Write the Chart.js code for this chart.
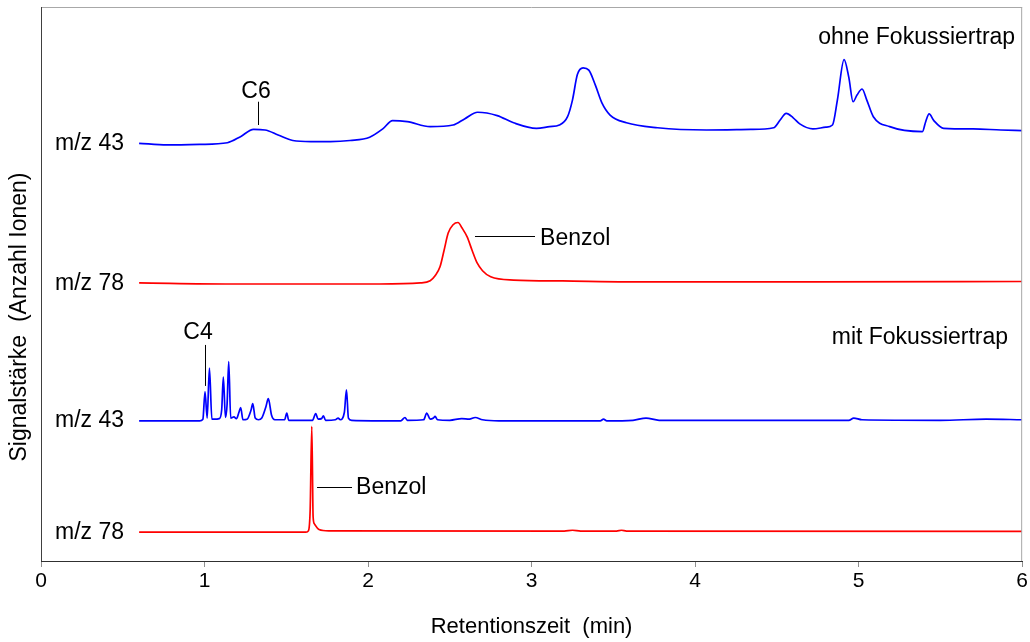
<!DOCTYPE html>
<html>
<head>
<meta charset="utf-8">
<script src="https://cdn.jsdelivr.net/npm/chart.js@4.4.1/dist/chart.umd.min.js"></script>
<style>
  html, body { margin: 0; padding: 0; background: #ffffff; }
  #wrap { width: 1030px; height: 642px; }
</style>
</head>
<body>
<div id="wrap"><canvas id="c" width="1030" height="642"></canvas></div>
<script>
// ---- Data (retention time in min, signal in arbitrary units above each trace's baseline) ----
const traceNames = ['m/z 43', 'm/z 78', 'm/z 43', 'm/z 78'];
const traceOffsets = [75.3, 50.1, 25.3, 5.2];
const xTicks = [0, 1, 2, 3, 4, 5, 6];

// ohne Fokussiertrap, m/z 43
const ohne43Time = [0.6,0.77,0.97,1.14,1.22,1.30,1.37,1.45,1.54,1.65,1.77,1.89,2.01,2.09,2.15,2.24,2.38,2.52,2.59,2.67,2.79,2.89,3.03,3.11,3.17,3.22,3.25,3.28,3.315,3.35,3.39,3.43,3.48,3.58,3.77,4.07,4.34,4.48,4.52,4.557,4.60,4.64,4.72,4.80,4.84,4.87,4.911,4.94,4.966,4.99,5.021,5.05,5.09,5.19,5.39,5.41,5.431,5.46,5.52,5.70,5.87,6.0];
const ohne43Signal = [0.1,-0.2,-0.1,0.2,1.3,2.6,2.5,1.6,0.6,0.4,0.4,0.6,1.2,2.7,4.2,4.0,3.1,3.4,4.5,5.7,5.1,3.8,2.8,3.1,3.4,4.9,7.9,12.5,13.7,13.3,10.6,7.4,5.2,3.8,2.9,2.5,2.6,2.9,4.3,5.5,4.7,3.6,2.7,3.0,3.4,7.9,15.2,12.0,7.6,8.8,9.9,7.9,4.9,3.1,2.2,4.0,5.4,4.2,2.8,2.7,2.5,2.4];

// ohne Fokussiertrap, m/z 78
const ohne78Time = [0.6,1.16,2.07,2.32,2.38,2.41,2.44,2.465,2.49,2.52,2.55,2.575,2.606,2.636,2.667,2.70,2.75,2.89,3.19,3.58,4.64,6.0];
const ohne78Signal = [0.1,-0.1,-0.1,0.1,0.5,1.4,3.0,6.0,9.1,10.6,11.0,10.0,8.4,6.0,3.7,2.3,1.2,0.6,0.45,0.3,0.3,0.35];

// mit Fokussiertrap, m/z 43
const mit43Time = [0.6,0.97,0.99,1.003,1.016,1.03,1.045,1.06,1.09,1.105,1.115,1.128,1.138,1.148,1.16,1.18,1.195,1.21,1.221,1.235,1.26,1.285,1.295,1.31,1.33,1.35,1.375,1.39,1.41,1.43,1.49,1.503,1.515,1.66,1.68,1.695,1.715,1.727,1.74,1.80,1.817,1.83,1.855,1.868,1.88,1.90,2.20,2.226,2.24,2.34,2.359,2.38,2.40,2.41,2.425,2.50,2.573,2.62,2.655,2.70,2.80,3.42,3.44,3.46,3.62,3.70,3.78,4.20,4.94,4.97,5.02,5.50,5.78,6.0];
const mit43Signal = [0,0,0.3,5.3,0.5,9.5,0.3,0.3,0.4,2.0,7.9,0.6,3.0,10.7,0.5,0.7,0.4,1.5,2.4,0.2,0.3,2.0,3.1,0.5,0.2,0.5,2.5,4.0,1.0,0.2,0.2,1.4,0.1,0.1,1.3,0.3,0.4,0.9,0.1,0.2,0.5,0.2,1.5,5.6,0.5,0.1,0,0.6,0.1,0.2,1.4,0.3,0.5,0.8,0.2,0.1,0.4,0.3,0.6,0.2,0,0,0.3,0,0.1,0.5,0.1,0.1,0.1,0.5,0.2,0.1,0.3,0.2];

// mit Fokussiertrap, m/z 78
const mit78Time = [0.6,1.62,1.636,1.646,1.656,1.664,1.672,1.70,1.76,3.2,3.25,3.3,3.52,3.55,3.58,6.0];
const mit78Signal = [0,0,0.3,4.0,19.1,2.8,1.5,0.5,0.25,0.2,0.35,0.2,0.2,0.35,0.2,0.15];

// Annotations (data coordinates)
const peakMarkers = [
  { text: 'C6', lineX: 1.327, lineTop: 82.9, lineBottom: 78.7, textX: 1.315, textY: 84.7 },
  { text: 'C4', lineX: 1.003, lineTop: 39.0, lineBottom: 31.6, textX: 0.96, textY: 41.2 }
];
const benzolLabels = [
  { text: 'Benzol', lineFrom: 2.654, lineTo: 3.021, lineY: 58.7, textX: 3.052, textY: 58.1 },
  { text: 'Benzol', lineFrom: 1.688, lineTo: 1.902, lineY: 13.4, textX: 1.927, textY: 13.2 }
];
const groupLabels = [
  { text: 'ohne Fokussiertrap', x: 5.957, y: 94.4 },
  { text: 'mit Fokussiertrap', x: 5.914, y: 40.4 }
];
const traceLabelX = 0.086;

const FONT = "'Liberation Sans', Arial, sans-serif";

function buildSeries(times, signals, offset) {
  return times.map((t, i) => ({ x: t, y: offset + signals[i] }));
}

const seriesTimes = [ohne43Time, ohne78Time, mit43Time, mit78Time];
const seriesSignals = [ohne43Signal, ohne78Signal, mit43Signal, mit78Signal];
const seriesColors = ['#0000ff', '#ff0000', '#0000ff', '#ff0000'];

const datasets = seriesTimes.map((t, i) => ({
  label: traceNames[i],
  data: buildSeries(t, seriesSignals[i], traceOffsets[i]),
  borderColor: seriesColors[i],
  borderWidth: 1.7,
  pointRadius: 0,
  fill: false,
  cubicInterpolationMode: 'monotone'
}));

const overlay = {
  id: 'overlay',
  afterDraw(chart) {
    const { ctx, chartArea: ca, scales: { x, y } } = chart;
    ctx.save();
    // frame
    ctx.lineWidth = 1;
    ctx.strokeStyle = '#a8a8a8';
    ctx.beginPath();
    ctx.moveTo(ca.left, ca.top + 0.5); ctx.lineTo(ca.right, ca.top + 0.5);
    ctx.moveTo(ca.right - 0.5, ca.top); ctx.lineTo(ca.right - 0.5, ca.bottom);
    ctx.stroke();
    ctx.strokeStyle = '#404040';
    ctx.beginPath();
    ctx.moveTo(ca.left + 0.5, ca.top); ctx.lineTo(ca.left + 0.5, ca.bottom);
    ctx.stroke();

    ctx.fillStyle = '#000';
    ctx.strokeStyle = '#000';
    ctx.font = '23px ' + FONT;
    ctx.textBaseline = 'middle';

    // trace labels
    ctx.textAlign = 'left';
    traceNames.forEach((n, i) => {
      ctx.fillText(n, x.getPixelForValue(traceLabelX), y.getPixelForValue(traceOffsets[i]));
    });

    // peak markers
    peakMarkers.forEach(m => {
      const px = Math.round(x.getPixelForValue(m.lineX)) + 0.5;
      ctx.beginPath();
      ctx.moveTo(px, y.getPixelForValue(m.lineTop));
      ctx.lineTo(px, y.getPixelForValue(m.lineBottom));
      ctx.stroke();
      ctx.textAlign = 'center';
      ctx.fillText(m.text, x.getPixelForValue(m.textX), y.getPixelForValue(m.textY));
    });

    // Benzol labels
    benzolLabels.forEach(b => {
      const py = Math.round(y.getPixelForValue(b.lineY)) + 0.5;
      ctx.beginPath();
      ctx.moveTo(x.getPixelForValue(b.lineFrom), py);
      ctx.lineTo(x.getPixelForValue(b.lineTo), py);
      ctx.stroke();
      ctx.textAlign = 'left';
      ctx.fillText(b.text, x.getPixelForValue(b.textX), y.getPixelForValue(b.textY));
    });

    // group labels
    ctx.textAlign = 'right';
    groupLabels.forEach(g => {
      ctx.fillText(g.text, x.getPixelForValue(g.x), y.getPixelForValue(g.y));
    });

    // y-axis title
    ctx.save();
    ctx.translate(20, 317);
    ctx.rotate(-Math.PI / 2);
    ctx.textAlign = 'center';
    ctx.font = '23px ' + FONT;
    ctx.fillText('Signalstärke  (Anzahl Ionen)', 0, 0);
    ctx.restore();

    ctx.restore();
  }
};

new Chart(document.getElementById('c'), {
  type: 'line',
  data: { datasets },
  options: {
    responsive: false,
    animation: false,
    devicePixelRatio: 1,
    layout: { padding: { left: 41, right: 4, top: 7, bottom: 0 } },
    plugins: { legend: { display: false }, tooltip: { enabled: false } },
    scales: {
      x: {
        type: 'linear',
        min: 0, max: 6,
        afterBuildTicks: (scale) => { scale.ticks = xTicks.map(v => ({ value: v })); },
        afterFit: (scale) => { scale.height = 81; },
        border: { display: true, color: '#303030', width: 1 },
        grid: { display: true, drawOnChartArea: false, drawTicks: true, tickLength: 6, color: '#909090' },
        ticks: { color: '#000', font: { family: FONT, size: 21 }, padding: 2, maxRotation: 0 },
        title: { display: true, text: 'Retentionszeit  (min)', color: '#000', font: { family: FONT, size: 22 }, padding: { top: 0, bottom: 2 } }
      },
      y: {
        type: 'linear',
        min: 0, max: 100,
        display: false
      }
    }
  },
  plugins: [overlay]
});
</script>
</body>
</html>
